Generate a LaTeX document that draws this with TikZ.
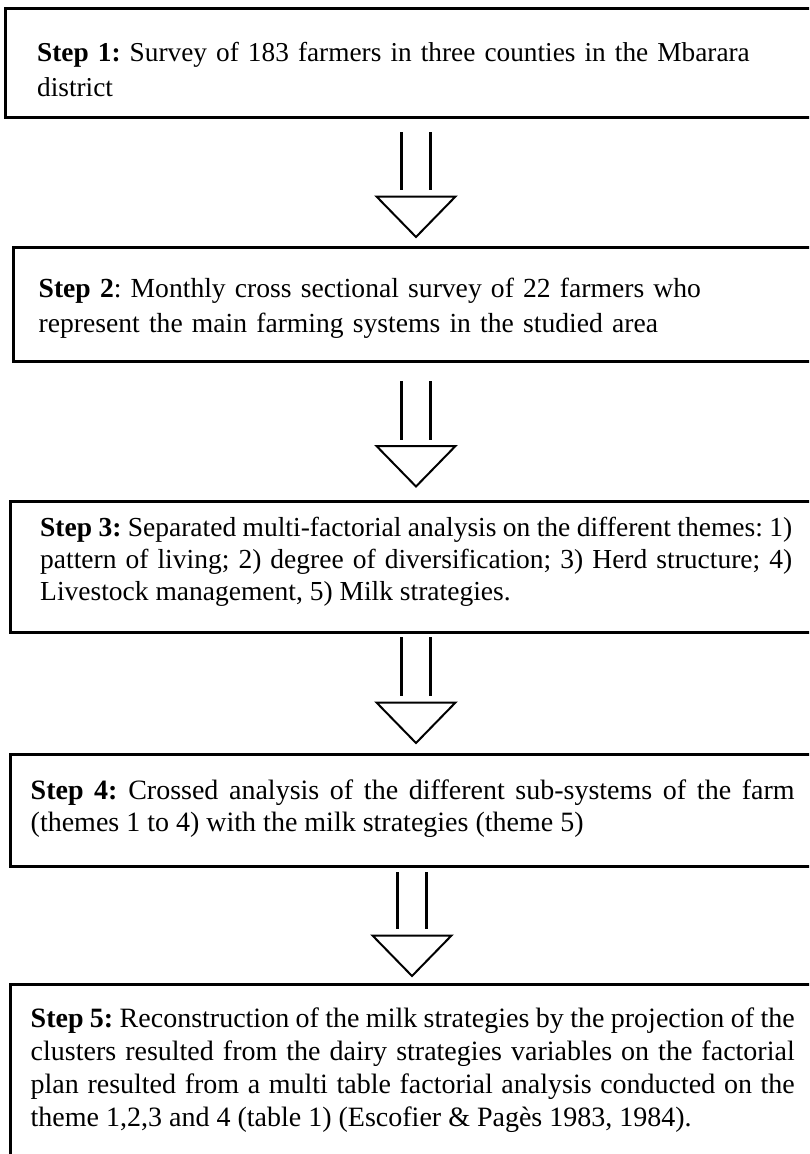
\documentclass[tikz,border=0pt]{standalone}
\usepackage{fontspec}
\setmainfont{Liberation Serif}
\usetikzlibrary{positioning}
\frenchspacing
\hyphenpenalty=10000
\exhyphenpenalty=10000
\tolerance=9999
\tikzset{
  stepbox/.style={draw, line width=3pt, anchor=north west, inner sep=0pt, outer sep=0pt, minimum width=840pt},
  steptext/.style={anchor=base west, inner sep=0pt, font=\fontsize{28}{34}\selectfont},
  flowline/.style={line width=2.2pt},
  flowhead/.style={line width=2pt, line join=miter},
}
% double shaft and open head between two boxes: upper, lower, x, gap below upper, gap above lower
\newcommand{\flowarrow}[5]{
  \coordinate (ax) at (#3,0);
  \coordinate (tail) at ([yshift=-#4pt]#1.south -| ax);
  \coordinate (tip) at ([yshift=#5pt]#2.north -| ax);
  \draw[flowline] ([xshift=-14.5pt]tail) -- ([xshift=-14.5pt,yshift=47pt]tip);
  \draw[flowline] ([xshift=14.5pt]tail) -- ([xshift=14.5pt,yshift=47pt]tip);
  \draw[flowhead] ([xshift=-39.5pt,yshift=40.5pt]tip) -- ([xshift=39.5pt,yshift=40.5pt]tip) -- (tip) -- cycle;
}
\begin{document}
\begin{tikzpicture}[x=1pt,y=-1pt]
\useasboundingbox (0,0) rectangle (809,1154);
\clip (0,0) rectangle (809,1154);
\node[stepbox, minimum height=108.5pt] (b1) at (5,8.5) {};
\node[stepbox, minimum height=114pt] (b2) at (13,247) {};
\node[stepbox, minimum height=130.5pt] (b3) at (10,501.5) {};
\node[stepbox, minimum height=112pt] (b4) at (10,754) {};
\node[stepbox, minimum height=300pt] (b5) at (10,984) {};
\node[steptext, text width=760pt, align=left, font=\fontsize{27.3}{35}\selectfont] (t1) at ([xshift=32pt,yshift=-52.5pt]b1.north west)
  {\textbf{Step 1:} Survey of 183 farmers in three counties in the Mbarara\\ district};
\node[steptext, text width=760pt, align=left, font=\fontsize{27.6}{34.5}\selectfont] (t2) at ([xshift=25.5pt,yshift=-50.5pt]b2.north west)
  {\textbf{Step 2}: Monthly cross sectional survey of 22 farmers who\\ represent the main farming systems in the studied area};
\node[steptext, text width=752pt, align=justify, font=\fontsize{27.5}{32}\selectfont] (t3) at ([xshift=30pt,yshift=-34.5pt]b3.north west)
  {\textbf{Step 3:} Separated multi-factorial analysis on the different themes: 1)\linebreak pattern of living; 2) degree of diversification; 3) Herd structure; 4)\linebreak Livestock management, 5) Milk strategies.};
\node[steptext, text width=764pt, align=justify, font=\fontsize{28}{32}\selectfont] (t4) at ([xshift=20.5pt,yshift=-45pt]b4.north west)
  {\textbf{Step 4:} Crossed analysis of the different sub-systems of the farm\linebreak (themes 1 to 4) with the milk strategies (theme 5)};
\node[steptext, text width=764pt, align=justify, font=\fontsize{28}{33}\selectfont] (t5) at ([xshift=20.5pt,yshift=-43pt]b5.north west)
  {\textbf{Step 5:} Reconstruction of the milk strategies by the projection of the\linebreak clusters resulted from the dairy strategies variables on the factorial\linebreak plan resulted from a multi table factorial analysis conducted on the\linebreak theme 1,2,3 and 4 (table 1) (Escofier \& Pagès 1983, 1984).};
\flowarrow{b1}{b2}{416}{15}{10}
\flowarrow{b2}{b3}{416}{20}{15}
\flowarrow{b3}{b4}{416}{5}{11}
\flowarrow{b4}{b5}{412}{6}{8}
\end{tikzpicture}
\end{document}
